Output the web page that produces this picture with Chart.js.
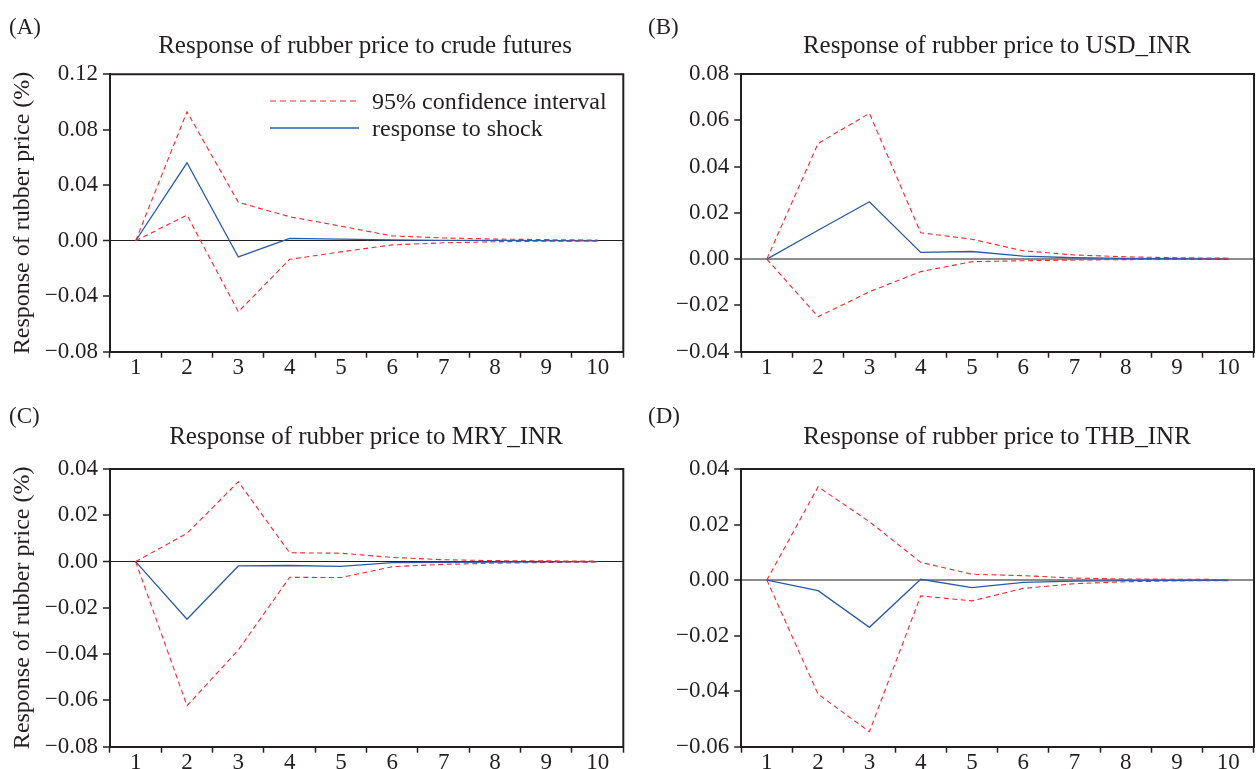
<!DOCTYPE html>
<html><head><meta charset="utf-8">
<script src="https://cdn.jsdelivr.net/npm/chart.js@4.4.1/dist/chart.umd.min.js"></script>
<style>
body{margin:0;background:#fff;width:1256px;height:769px;position:relative;overflow:hidden;font-family:"Liberation Serif",serif;color:#231f20}
.panel{position:absolute}
canvas{display:block}
.lbl{position:absolute;font-size:23px;line-height:1;white-space:nowrap;transform:translateY(-50%)}
.ttl{position:absolute;font-size:25px;line-height:1;white-space:nowrap;transform:translate(-50%,-50%)}
.leg{position:absolute;font-size:24px;line-height:1;white-space:nowrap;transform:translateY(-50%)}
svg{position:absolute;overflow:visible}
</style></head><body>

<div class="panel" style="left:0;top:0;width:628px;height:385px"><canvas id="cA"></canvas></div>
<div class="panel" style="left:628px;top:0;width:628px;height:385px"><canvas id="cB"></canvas></div>
<div class="panel" style="left:0;top:385px;width:628px;height:384px"><canvas id="cC"></canvas></div>
<div class="panel" style="left:628px;top:385px;width:628px;height:384px"><canvas id="cD"></canvas></div>

<div class="lbl" style="left:9px;top:26px">(A)</div>
<div class="ttl" style="left:365px;top:44px">Response of rubber price to crude futures</div>
<div class="lbl" style="left:648px;top:26px">(B)</div>
<div class="ttl" style="left:997px;top:44px">Response of rubber price to USD_INR</div>
<div class="lbl" style="left:9px;top:415px">(C)</div>
<div class="ttl" style="left:366px;top:435px">Response of rubber price to MRY_INR</div>
<div class="lbl" style="left:648px;top:415px">(D)</div>
<div class="ttl" style="left:997px;top:435px">Response of rubber price to THB_INR</div>

<svg style="left:0;top:0" width="1" height="1">
  <line x1="270" y1="101" x2="359" y2="101" stroke="#ee2a2f" stroke-width="1.2" stroke-dasharray="6,4"/>
  <line x1="270" y1="128" x2="359" y2="128" stroke="#2b5ba8" stroke-width="1.4"/>
</svg>
<div class="leg" style="left:372px;top:101px">95% confidence interval</div>
<div class="leg" style="left:372px;top:128px">response to shock</div>

<script>
// ---- data ----
const periods = ['1','2','3','4','5','6','7','8','9','10'];
const seriesNames = ['95% confidence interval', 'response to shock'];

const crudeUpper    = [0, 0.0930, 0.0277, 0.0173, 0.0105, 0.0035, 0.0020, 0.0012, 0.0008, 0.0005];
const crudeResponse = [0, 0.0562, -0.0117, 0.0017, 0.0012, 0.0006, 0.0003, 0.0002, 0.0001, 0.0000];
const crudeLower    = [0, 0.0185, -0.0512, -0.0134, -0.0080, -0.0030, -0.0015, -0.0007, -0.0003, -0.0002];

const usdUpper    = [0, 0.0500, 0.0630, 0.0114, 0.0086, 0.0036, 0.0018, 0.0010, 0.0006, 0.0004];
const usdResponse = [0, 0.0125, 0.0248, 0.0029, 0.0033, 0.0013, 0.0006, 0.0003, 0.0002, 0.0001];
const usdLower    = [0, -0.0249, -0.0141, -0.0054, -0.0011, -0.0007, -0.0004, -0.0002, -0.0001, -0.0001];

const mryUpper    = [0, 0.0122, 0.0345, 0.0038, 0.0036, 0.0018, 0.0008, 0.0004, 0.0003, 0.0002];
const mryResponse = [0, -0.0249, -0.0019, -0.0017, -0.0021, -0.0005, -0.0003, -0.0002, -0.0001, 0.0000];
const mryLower    = [0, -0.0623, -0.0382, -0.0068, -0.0069, -0.0022, -0.0012, -0.0007, -0.0004, -0.0002];

const thbUpper    = [0, 0.0336, 0.0210, 0.0064, 0.0021, 0.0016, 0.0007, 0.0004, 0.0003, 0.0002];
const thbResponse = [0, -0.0038, -0.0170, 0.0003, -0.0027, -0.0008, -0.0004, -0.0002, -0.0001, 0.0000];
const thbLower    = [0, -0.0411, -0.0546, -0.0057, -0.0075, -0.0030, -0.0013, -0.0006, -0.0003, -0.0002];

// y-axis tick ranges: [min, max, step]
const crudeTicks = [-0.08, 0.12, 0.04];
const usdTicks   = [-0.04, 0.08, 0.02];
const mryTicks   = [-0.08, 0.04, 0.02];
const thbTicks   = [-0.06, 0.04, 0.02];
const yAxisTitle = 'Response of rubber price (%)';

// ---- drawing ----
const INK = '#231f20';
const RED = '#ee2a2f';
const BLUE = '#2b5ba8';
const FONT = '"Liberation Serif", serif';

const framePlugin = {
  id: 'frame',
  afterDraw(chart) {
    const {ctx, chartArea: {left, top, right, bottom}} = chart;
    ctx.save();
    ctx.strokeStyle = INK;
    ctx.lineWidth = 2;
    ctx.beginPath();
    ctx.moveTo(left - 1, top);
    ctx.lineTo(right, top);
    ctx.lineTo(right, bottom + 1);
    ctx.stroke();
    ctx.restore();
  }
};

function fmt(v) {
  if (Math.abs(v) < 1e-9) return '0.00';
  const s = Math.abs(v).toFixed(2);
  return v < 0 ? '\u2212' + s : s;
}

function makePanel(id, w, h, area, upper, resp, lower, ticks, zero, showTitle) {
  const cv = document.getElementById(id);
  cv.width = w; cv.height = h;
  cv.style.width = w + 'px'; cv.style.height = h + 'px';
  new Chart(cv, {
    type: 'line',
    data: {
      labels: periods,
      datasets: [
        {label: seriesNames[0], data: upper, borderColor: RED, borderWidth: 1.1, borderDash: [5, 3.5], pointRadius: 0, tension: 0, fill: false},
        {label: seriesNames[1], data: resp, borderColor: BLUE, borderWidth: 1.3, pointRadius: 0, tension: 0, fill: false},
        {label: seriesNames[0], data: lower, borderColor: RED, borderWidth: 1.1, borderDash: [5, 3.5], pointRadius: 0, tension: 0, fill: false}
      ]
    },
    options: {
      responsive: false,
      animation: false,
      devicePixelRatio: 1,
      layout: {padding: {left: 0, top: area.top, right: w - area.right, bottom: 0}},
      plugins: {legend: {display: false}, tooltip: {enabled: false}, title: {display: false}},
      scales: {
        x: {
          type: 'category',
          offset: true,
          afterFit: s => { s.height = h - area.bottom; },
          grid: {offset: true, drawOnChartArea: false, drawTicks: true, tickLength: 6, tickColor: INK, tickWidth: 1.5},
          border: {display: true, color: INK, width: 2},
          ticks: {color: INK, padding: -4, font: {family: FONT, size: 23}, maxRotation: 0, autoSkip: false}
        },
        y: {
          min: ticks[0], max: ticks[1],
          afterFit: s => { s.width = area.left; },
          afterBuildTicks: s => {
            const arr = [];
            const n = Math.round((ticks[1] - ticks[0]) / ticks[2]);
            for (let i = 0; i <= n; i++) arr.push({value: +(ticks[0] + i * ticks[2]).toFixed(4)});
            s.ticks = arr;
          },
          grid: {
            drawOnChartArea: true,
            drawTicks: true,
            tickLength: 7,
            tickColor: INK,
            tickWidth: 1.5,
            color: c => (c.tick && Math.abs(c.tick.value) < 1e-9) ? zero.color : 'rgba(0,0,0,0)',
            lineWidth: c => (c.tick && Math.abs(c.tick.value) < 1e-9) ? zero.width : 0
          },
          border: {display: true, color: INK, width: 2},
          ticks: {color: INK, padding: 5, font: {family: FONT, size: 23}, callback: v => fmt(v)},
          title: {display: showTitle, text: yAxisTitle, color: INK, font: {family: FONT, size: 24}, padding: {top: 8, bottom: 0}}
        }
      }
    },
    plugins: [framePlugin]
  });
}

const zeroBlack = {color: INK, width: 1};
const zeroGray = {color: '#8c8c8c', width: 2};

makePanel('cA', 628, 385, {left: 110, top: 74.3, right: 623.3, bottom: 351.7}, crudeUpper, crudeResponse, crudeLower, crudeTicks, zeroBlack, true);
makePanel('cB', 628, 385, {left: 113.2, top: 74, right: 626, bottom: 351.7}, usdUpper, usdResponse, usdLower, usdTicks, zeroGray, false);
makePanel('cC', 628, 384, {left: 110, top: 84, right: 623.3, bottom: 361.7}, mryUpper, mryResponse, mryLower, mryTicks, zeroBlack, true);
makePanel('cD', 628, 384, {left: 113.2, top: 84, right: 626, bottom: 361.7}, thbUpper, thbResponse, thbLower, thbTicks, zeroGray, false);
</script>
</body></html>
